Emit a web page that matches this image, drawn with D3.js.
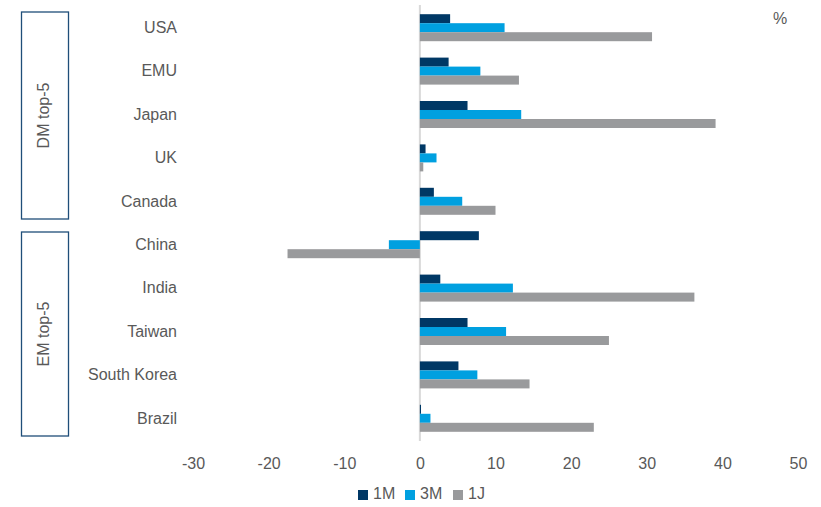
<!DOCTYPE html>
<html>
<head>
<meta charset="utf-8">
<script src="https://cdn.jsdelivr.net/npm/d3@7"></script>
<style>
  html, body { margin: 0; padding: 0; background: #fff; }
  svg { display: block; font-family: "Liberation Sans", Arial, sans-serif; }
</style>
</head>
<body>
<svg id="chart" width="821" height="507"></svg>
<script>
// Market returns by region, in percent
const categories = ["USA", "EMU", "Japan", "UK", "Canada", "China", "India", "Taiwan", "South Korea", "Brazil"];
const seriesNames = ["1M", "3M", "1J"];
const values1M = [4.0, 3.8, 6.3, 0.75, 1.85, 7.8, 2.7, 6.3, 5.1, 0.15];
const values3M = [11.2, 8.0, 13.4, 2.2, 5.6, -4.1, 12.3, 11.4, 7.6, 1.4];
const values1J = [30.7, 13.1, 39.1, 0.45, 10.0, -17.5, 36.3, 25.0, 14.5, 23.0];
const xTicks = [-30, -20, -10, 0, 10, 20, 30, 40, 50];
const groups = [
  { label: "DM top-5", members: ["USA", "EMU", "Japan", "UK", "Canada"] },
  { label: "EM top-5", members: ["China", "India", "Taiwan", "South Korea", "Brazil"] }
];

const colors = ["#003865", "#00a0e0", "#999a9c"];
const seriesValues = [values1M, values3M, values1J];

const svg = d3.select("#chart");
const textColor = "#595959";

const x = d3.scaleLinear().domain([-30, 50]).range([193, 798]);
const y = d3.scaleBand().domain(categories).range([6, 440]).paddingInner(0).paddingOuter(0);
const barH = 9;
const groupH = barH * seriesNames.length;

// zero line
svg.append("line")
  .attr("x1", x(0)).attr("x2", x(0))
  .attr("y1", 5).attr("y2", 441)
  .attr("stroke", "#d9d9d9").attr("stroke-width", 2);

// bars
seriesNames.forEach((s, si) => {
  svg.append("g").selectAll("rect")
    .data(categories.map((c, i) => ({ c, v: seriesValues[si][i] })))
    .join("rect")
    .attr("x", d => Math.min(x(0), x(d.v)))
    .attr("width", d => Math.abs(x(d.v) - x(0)))
    .attr("y", d => y(d.c) + y.bandwidth() / 2 - groupH / 2 + si * barH)
    .attr("height", barH)
    .attr("fill", colors[si]);
});

// category labels
svg.append("g").selectAll("text")
  .data(categories)
  .join("text")
  .attr("x", 177)
  .attr("y", d => y(d) + y.bandwidth() / 2 + 1)
  .attr("text-anchor", "end")
  .attr("dominant-baseline", "middle")
  .attr("font-size", 16)
  .attr("fill", textColor)
  .text(d => d);

// x axis tick labels (plain hyphen for negatives)
const xAxis = d3.axisBottom(x).tickValues(xTicks).tickSize(0).tickPadding(0)
  .tickFormat(d => String(d));
const gx = svg.append("g").attr("transform", "translate(0,458)").call(xAxis);
gx.select(".domain").remove();
gx.selectAll("text")
  .attr("font-size", 16)
  .attr("font-family", "'Liberation Sans', Arial, sans-serif")
  .attr("fill", textColor)
  .attr("dy", "0.71em");

// group boxes
groups.forEach((g, gi) => {
  const top = y(g.members[0]) + (gi === 0 ? 6 : 9);
  const bottom = y(g.members[g.members.length - 1]) + y.bandwidth() - 4;
  svg.append("rect")
    .attr("x", 21.5).attr("y", top)
    .attr("width", 47).attr("height", bottom - top)
    .attr("fill", "none")
    .attr("stroke", "#1f4e79").attr("stroke-width", 1.3);
  const cy = (top + bottom) / 2;
  svg.append("text")
    .attr("transform", `translate(45,${cy}) rotate(-90)`)
    .attr("text-anchor", "middle")
    .attr("dominant-baseline", "middle")
    .attr("font-size", 16)
    .attr("fill", textColor)
    .text(g.label);
});

// unit label
svg.append("text")
  .attr("x", 780).attr("y", 20)
  .attr("text-anchor", "middle")
  .attr("dominant-baseline", "middle")
  .attr("font-size", 16)
  .attr("fill", textColor)
  .text("%");

// legend
const legend = svg.append("g").attr("transform", "translate(358,495)");
const legendOffsets = [0, 47, 95];
seriesNames.forEach((s, i) => {
  const g = legend.append("g").attr("transform", `translate(${legendOffsets[i]},0)`);
  g.append("rect").attr("x", 0).attr("y", -5).attr("width", 10).attr("height", 10).attr("fill", colors[i]);
  g.append("text")
    .attr("x", 15).attr("y", 0)
    .attr("dominant-baseline", "middle")
    .attr("font-size", 16)
    .attr("fill", textColor)
    .text(s);
});
</script>
</body>
</html>
